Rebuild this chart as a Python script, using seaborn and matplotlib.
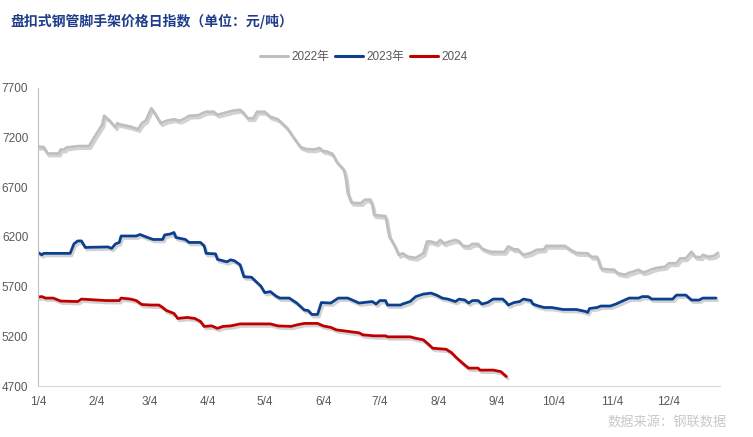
"""Daily price index of ringlock scaffolding steel tube, 2022-2024."""
import pandas as pd
import matplotlib
matplotlib.use("Agg")
import matplotlib.pyplot as plt
import matplotlib.patheffects as pe
from matplotlib.lines import Line2D
import seaborn as sns

# ── data (month-day, value) ───────────────────────────────────────────────────
D2022 = ["01-04", "01-07", "01-09", "01-15", "01-16", "01-18", "01-19", "01-23", "01-26", "01-31",
         "02-03", "02-07", "02-08", "02-11", "02-14", "02-15", "02-16", "02-22", "02-26", "02-28",
         "03-02", "03-05", "03-07", "03-10", "03-13", "03-17", "03-20", "03-23", "03-25", "03-30",
         "04-01", "04-03", "04-07", "04-09", "04-12", "04-15", "04-17", "04-21", "04-23", "04-25",
         "04-28", "04-30", "05-04", "05-07", "05-11", "05-16", "05-19", "05-23", "05-26", "05-30",
         "06-02", "06-04", "06-06", "06-09", "06-11", "06-15", "06-16", "06-17", "06-19", "06-24",
         "06-26", "06-29", "06-30", "07-01", "07-07", "07-08", "07-09", "07-12", "07-14", "07-16",
         "07-19", "07-23", "07-27", "07-29", "07-31", "08-03", "08-05", "08-07", "08-10", "08-13",
         "08-15", "08-17", "08-20", "08-22", "08-25", "08-27", "08-30", "09-01", "09-08", "09-10",
         "09-13", "09-15", "09-18", "09-22", "09-25", "09-29", "09-30", "10-10", "10-13", "10-16",
         "10-22", "10-24", "10-27", "10-29", "10-31", "11-05", "11-07", "11-11", "11-13", "11-15",
         "11-18", "11-20", "11-22", "11-25", "11-28", "12-02", "12-04", "12-08", "12-10", "12-13",
         "12-16", "12-18", "12-21", "12-22", "12-25", "12-28", "12-30"]
V2022 = [7110, 7105, 7040, 7040, 7080, 7080, 7100, 7110, 7115, 7115,
         7210, 7330, 7420, 7370, 7305, 7345, 7335, 7310, 7285, 7345,
         7370, 7495, 7440, 7345, 7370, 7385, 7370, 7395, 7420, 7425,
         7445, 7460, 7460, 7430, 7445, 7460, 7470, 7480, 7445, 7395,
         7395, 7460, 7460, 7410, 7385, 7295, 7210, 7105, 7085, 7080,
         7095, 7065, 7060, 7035, 6960, 6875, 6790, 6640, 6545, 6540,
         6575, 6575, 6520, 6420, 6410, 6305, 6205, 6105, 6020, 6035,
         6000, 5990, 6035, 6155, 6155, 6135, 6170, 6135, 6155, 6170,
         6155, 6110, 6105, 6130, 6130, 6085, 6060, 6050, 6050, 6105,
         6075, 6075, 6020, 6040, 6070, 6075, 6110, 6110, 6070, 6040,
         6035, 6000, 6000, 5885, 5875, 5870, 5835, 5820, 5840, 5850,
         5870, 5845, 5850, 5875, 5890, 5900, 5935, 5935, 5985, 5985,
         6050, 6000, 5995, 6020, 6000, 6010, 6040]

D2023 = ["01-04", "01-06", "01-07", "01-21", "01-23", "01-25", "01-27", "01-29", "02-10", "02-12",
         "02-14", "02-16", "02-17", "02-25", "02-27", "03-03", "03-06", "03-11", "03-12", "03-15",
         "03-17", "03-18", "03-23", "03-25", "03-31", "04-02", "04-03", "04-08", "04-09", "04-14",
         "04-16", "04-18", "04-21", "04-23", "04-27", "05-02", "05-04", "05-07", "05-10", "05-12",
         "05-17", "05-21", "05-25", "05-27", "05-29", "06-01", "06-03", "06-08", "06-10", "06-12",
         "06-17", "06-20", "06-23", "06-30", "07-02", "07-04", "07-07", "07-08", "07-15", "07-16",
         "07-20", "07-23", "07-27", "07-31", "08-03", "08-06", "08-09", "08-13", "08-15", "08-18",
         "08-20", "08-22", "08-25", "08-27", "08-30", "09-02", "09-07", "09-09", "09-10", "09-13",
         "09-16", "09-18", "09-22", "09-23", "09-26", "09-29", "10-03", "10-09", "10-16", "10-21",
         "10-22", "10-23", "10-27", "10-29", "11-03", "11-06", "11-10", "11-13", "11-18", "11-20",
         "11-23", "11-25", "12-06", "12-08", "12-13", "12-16", "12-20", "12-22", "12-29"]
V2023 = [6045, 6020, 6035, 6035, 6130, 6160, 6160, 6095, 6100, 6085,
         6130, 6145, 6210, 6210, 6225, 6195, 6175, 6175, 6220, 6230,
         6245, 6195, 6175, 6145, 6145, 6110, 6035, 6030, 5975, 5950,
         5970, 5960, 5920, 5800, 5795, 5705, 5640, 5650, 5605, 5585,
         5585, 5535, 5465, 5460, 5420, 5420, 5540, 5535, 5560, 5585,
         5585, 5560, 5535, 5550, 5525, 5560, 5560, 5515, 5515, 5525,
         5550, 5600, 5625, 5635, 5615, 5585, 5575, 5550, 5575, 5565,
         5535, 5560, 5560, 5525, 5540, 5575, 5575, 5540, 5515, 5540,
         5550, 5575, 5560, 5525, 5505, 5490, 5490, 5470, 5470, 5450,
         5440, 5480, 5490, 5505, 5505, 5525, 5560, 5585, 5585, 5600,
         5600, 5575, 5575, 5615, 5615, 5565, 5565, 5585, 5585]

D2024 = ["01-04", "01-06", "01-08", "01-12", "01-16", "01-25", "01-27", "02-09", "02-16", "02-17",
         "02-22", "02-25", "02-28", "03-05", "03-09", "03-11", "03-13", "03-17", "03-19", "03-24",
         "03-28", "03-31", "04-02", "04-06", "04-09", "04-12", "04-16", "04-21", "05-07", "05-11",
         "05-18", "05-21", "05-25", "06-01", "06-04", "06-08", "06-11", "06-15", "06-23", "06-25",
         "07-01", "07-07", "07-08", "07-20", "07-23", "07-27", "07-30", "08-01", "08-08", "08-11",
         "08-13", "08-15", "08-18", "08-20", "08-25", "08-26", "09-02", "09-06", "09-09"]
V2024 = [5595, 5600, 5585, 5585, 5555, 5550, 5575, 5560, 5560, 5585,
         5575, 5560, 5520, 5515, 5515, 5490, 5460, 5430, 5380, 5390,
         5380, 5350, 5300, 5305, 5280, 5300, 5305, 5325, 5325, 5305,
         5300, 5315, 5330, 5330, 5305, 5290, 5265, 5255, 5235, 5215,
         5205, 5205, 5195, 5195, 5180, 5165, 5115, 5080, 5070, 5035,
         4995, 4960, 4910, 4880, 4880, 4860, 4860, 4845, 4795]

SERIES = ["2022年", "2023年", "2024"]
COLORS = ["#BFBFBF", "#0D3F8F", "#C00000"]
YTICKS = [4700, 5200, 5700, 6200, 6700, 7200, 7700]
XTICK_MD = ["01-04", "02-04", "03-04", "04-04", "05-04", "06-04",
            "07-04", "08-04", "09-04", "10-04", "11-04", "12-04"]
TITLE = "盘扣式钢管脚手架价格日指数（单位：元/吨）"
SOURCE = "数据来源：钢联数据"


def to_dates(md):
    # all years mapped onto one calendar so the curves overlay
    return pd.to_datetime(["2022-" + d for d in md])


frames = []
for name, d, v in [(SERIES[0], D2022, V2022), (SERIES[1], D2023, V2023), (SERIES[2], D2024, V2024)]:
    frames.append(pd.DataFrame({"date": to_dates(d), "value": v, "series": name}))
df = pd.concat(frames, ignore_index=True)

sns.set_style("white")
plt.rcParams["font.family"] = ["Liberation Sans", "Noto Sans CJK SC", "DejaVu Sans"]

fig = plt.figure(figsize=(7.53, 4.37), dpi=100)
ax = fig.add_axes([0.0505, 0.1167, 0.9055, 0.682])

shadow = [pe.SimpleLineShadow(offset=(1.2, -1.8), shadow_color="#808080", alpha=0.35),
          pe.Normal()]
for name, col in zip(SERIES, COLORS):
    sub = df[df["series"] == name]
    sns.lineplot(data=sub, x="date", y="value", ax=ax, color=col,
                 linewidth=2.0, legend=False)
    ax.lines[-1].set_path_effects(shadow)

ax.set_xlim(pd.Timestamp("2022-01-04"), pd.Timestamp("2022-12-31"))
ax.set_ylim(4700, 7700)
ax.set_yticks(YTICKS)
ax.set_yticklabels([str(t) for t in YTICKS])
xt = to_dates(XTICK_MD)
ax.set_xticks(xt)
ax.set_xticklabels([f"{t.month}/{t.day}" for t in xt])
ax.set_xlabel("")
ax.set_ylabel("")
ax.tick_params(axis="both", labelsize=8.5, labelcolor="#595959", color="#BFBFBF",
               length=4, width=0.8, direction="out")
ax.tick_params(axis="x", pad=3)
ax.tick_params(axis="y", pad=3)
for s in ["top", "right"]:
    ax.spines[s].set_visible(False)
ax.spines["left"].set_color("#BFBFBF")
ax.spines["bottom"].set_color("#D9D9D9")

handles = [Line2D([], [], color=c, linewidth=2.2) for c in COLORS]
fig.legend(handles, SERIES, loc="center", bbox_to_anchor=(0.483, 0.87), ncol=3,
           frameon=False, fontsize=8.5, handlelength=2.4, columnspacing=0.45,
           handletextpad=0.3, labelcolor="#595959")

fig.text(0.014, 0.952, TITLE, fontsize=10, fontweight="bold", color="#1F3C88",
         family=["Noto Sans CJK SC", "DejaVu Sans"], va="center")
fig.text(0.965, 0.032, SOURCE, fontsize=9.5, color="#C8C8C8",
         family=["Noto Sans CJK SC", "DejaVu Sans"], ha="right", va="center")

fig.savefig("out.png", dpi=100)
